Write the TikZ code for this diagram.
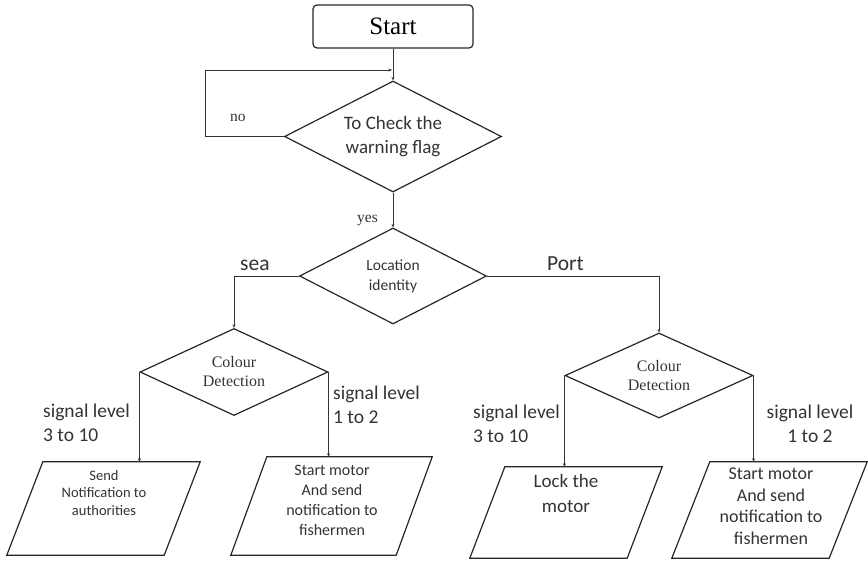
\documentclass[tikz,border=0pt]{standalone}
\usepackage{fontspec}
\setmainfont{Liberation Serif}
\newfontfamily\calib{Carlito}
\usetikzlibrary{shapes.geometric,arrows.meta,calc}

\begin{document}
\begin{tikzpicture}[x=1pt,y=-1pt,
    line/.style={draw=black!80,line width=0.7pt},
    arr/.style={line,-{Stealth[length=3.5pt,width=3pt]}},
    dec/.style={draw=black!85,line width=1.2pt,shape=diamond,aspect=2,inner sep=0pt,align=center,text=black!80},
    iobox/.style={inner sep=0pt},
    ioline/.style={draw=black!85,line width=1.2pt,line join=miter},
    ptext/.style={inner sep=0pt,align=center,text=black!80},
    lbl/.style={inner sep=0pt,align=left,text=black!80}]
    % page 868 x 562, y down
    \useasboundingbox (0,0) rectangle (868,562);

    % top
    \node[draw=black!85,line width=1.2pt,rounded corners=4pt,minimum width=160pt,minimum height=43pt,
          font=\fontsize{25}{30}\selectfont] (start) at (393,26.5) {Start};
    \node[dec,minimum width=217pt,minimum height=111pt,font=\calib\fontsize{19}{24}\selectfont]
          (chk) at (393,136.5) {To Check the\\warning flag};
    \node[dec,minimum width=187pt,minimum height=96pt,font=\calib\fontsize{15.5}{20}\selectfont]
          (loc) at (393,276) {Location\\identity};

    % colour detection
    \node[dec,minimum width=188pt,minimum height=87pt,font=\fontsize{16}{19}\selectfont]
          (cdl) at (234,372) {Colour\\Detection};
    \node[dec,minimum width=188pt,minimum height=85pt,font=\fontsize{16}{19}\selectfont]
          (cdr) at (659,375.5) {Colour\\Detection};

    % outputs (body of each parallelogram)
    \node[iobox,minimum width=157pt,minimum height=93pt] (send) at (103.5,508.5) {};
    \node[iobox,minimum width=165pt,minimum height=98pt] (motl) at (331.5,506) {};
    \node[iobox,minimum width=157pt,minimum height=91pt] (lock) at (566,512.5) {};
    \node[iobox,minimum width=157pt,minimum height=96pt] (motr) at (769.5,510) {};
    \foreach \n/\s in {send/18,motl/18,lock/17.5,motr/19}
      \draw[ioline] ([xshift=-\s pt]\n.south west) -- ([xshift=\s pt]\n.north west)
                 -- ([xshift=\s pt]\n.north east) -- ([xshift=-\s pt]\n.south east) -- cycle;

    \node[ptext,font=\calib\fontsize{14.5}{17.5}\selectfont] (sendtxt) at (104,493)
          {Send\\Notification to\\authorities};
    \node[ptext,font=\calib\fontsize{16}{20}\selectfont] (motltxt) at (332,500)
          {Start motor\\And send\\notification to\\fishermen};
    \node[ptext,font=\calib\fontsize{19}{25}\selectfont] (locktxt) at (566,493)
          {Lock the\\motor};
    \node[ptext,font=\calib\fontsize{18}{21.5}\selectfont] (motrtxt) at (771,506)
          {Start motor\\And send\\notification to\\fishermen};

    % loop back
    \coordinate (loopcorner) at (205,70);
    \coordinate (loopin) at (392,70);
    \draw[arr] (chk.west) -| (loopcorner) -- (loopin);

    \draw[arr] (start.south) -- (chk.north);
    \draw[arr] (chk.south) -- (loc.north);
    \draw[arr] (loc.west) -| (cdl.north);
    \draw[arr] (loc.east) -| (cdr.north);
    \draw[arr] (cdl.west) -- (cdl.west |- send.north);
    \draw[arr] (cdl.east) -- (cdl.east |- motl.north);
    \draw[arr] (cdr.west) -- (cdr.west |- lock.north);
    \draw[arr] (cdr.east) -- (cdr.east |- motr.north);

    % labels
    \node[lbl,font=\fontsize{15.5}{18}\selectfont,anchor=base west] (no) at (230,121) {no};
    \node[lbl,font=\fontsize{15.5}{18}\selectfont,anchor=base west] (yes) at (357,222) {yes};
    \node[lbl,font=\calib\fontsize{21.5}{26}\selectfont,anchor=base west] (sea) at (240,270) {sea};
    \node[lbl,font=\calib\fontsize{21.5}{26}\selectfont,anchor=base west] (port) at (547,270) {Port};

    \node[lbl,font=\calib\fontsize{19.5}{24}\selectfont,anchor=west] (sigl) at (43,423) {signal level\\3 to 10};
    \node[lbl,font=\calib\fontsize{19.5}{24}\selectfont,anchor=west] (sigml) at (333,405) {signal level\\1 to 2};
    \node[lbl,font=\calib\fontsize{19.5}{24}\selectfont,anchor=west] (sigmr) at (473,423.5) {signal level\\3 to 10};
    \node[lbl,align=center,font=\calib\fontsize{19.5}{24}\selectfont] (sigr) at (810,424) {signal level\\1 to 2};
\end{tikzpicture}
\end{document}
